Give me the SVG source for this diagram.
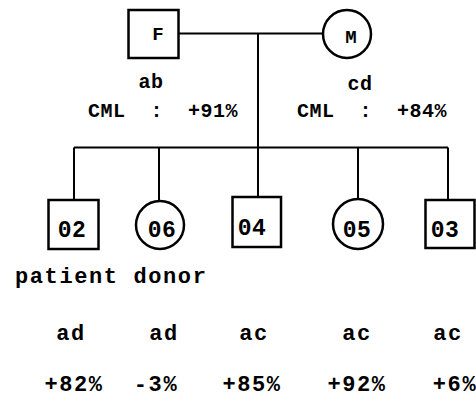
<svg xmlns="http://www.w3.org/2000/svg" width="476" height="407" viewBox="0 0 476 407">
<style>
.box{fill:#fff;stroke:#000;stroke-width:2.5}
.ln{fill:none;stroke:#000;stroke-width:2}
text{font-family:"Liberation Mono","Courier New",monospace;font-weight:bold;fill:#000}
.n{font-size:23px;letter-spacing:0.5px;text-anchor:middle}
.p{font-size:19px;text-anchor:middle}
.t{font-size:20px;letter-spacing:0.5px}
.tc{font-size:20px;letter-spacing:0.5px;text-anchor:middle}
.b{font-size:22px;letter-spacing:1.6px}
.bc{font-size:22px;letter-spacing:1.6px;text-anchor:middle}
</style>
<rect width="476" height="407" fill="#fff"/>
<g id="connectors">
<path class="ln" d="M179 33.5H323"/>
<path class="ln" d="M258 33.5V197"/>
<path class="ln" d="M74 147.5H448"/>
<path class="ln" d="M74 147.5V200"/>
<path class="ln" d="M159 147.5V201"/>
<path class="ln" d="M358 147.5V199"/>
<path class="ln" d="M448 147.5V200"/>
</g>
<g id="F">
<rect class="box" x="128.5" y="10" width="50" height="48"/>
<text class="p" x="158" y="40">F</text>
<text class="tc" x="151" y="88">ab</text>
<text class="t" x="88" y="117" style="word-spacing:12.5px">CML : +91%</text>
</g>
<g id="M">
<circle class="box" cx="347" cy="34" r="24"/>
<text class="p" x="351" y="43">M</text>
<text class="tc" x="360" y="90">cd</text>
<text class="t" x="297" y="117" style="word-spacing:12.5px">CML : +84%</text>
</g>
<g id="n02">
<rect class="box" x="48.5" y="200" width="50" height="49"/>
<text class="n" x="72" y="237">02</text>
</g>
<g id="n06">
<circle class="box" cx="160" cy="225" r="24"/>
<text class="n" x="162" y="237">06</text>
</g>
<g id="n04">
<rect class="box" x="232.5" y="197" width="48.5" height="50"/>
<text class="n" x="252" y="235">04</text>
</g>
<g id="n05">
<circle class="box" cx="358" cy="224" r="25"/>
<text class="n" x="357" y="237">05</text>
</g>
<g id="n03">
<rect class="box" x="425.5" y="200" width="49" height="48"/>
<text class="n" x="445" y="237">03</text>
</g>
<g id="labels">
<text class="b" x="15" y="283">patient donor</text>
<text class="bc" x="71" y="340">ad</text>
<text class="bc" x="164" y="340">ad</text>
<text class="bc" x="254" y="340">ac</text>
<text class="bc" x="357" y="340">ac</text>
<text class="bc" x="448" y="340">ac</text>
<text class="bc" x="74" y="391">+82%</text>
<text class="bc" x="156" y="391">-3%</text>
<text class="bc" x="252" y="391">+85%</text>
<text class="bc" x="357" y="391">+92%</text>
<text class="bc" x="455" y="391">+6%</text>
</g>
</svg>
